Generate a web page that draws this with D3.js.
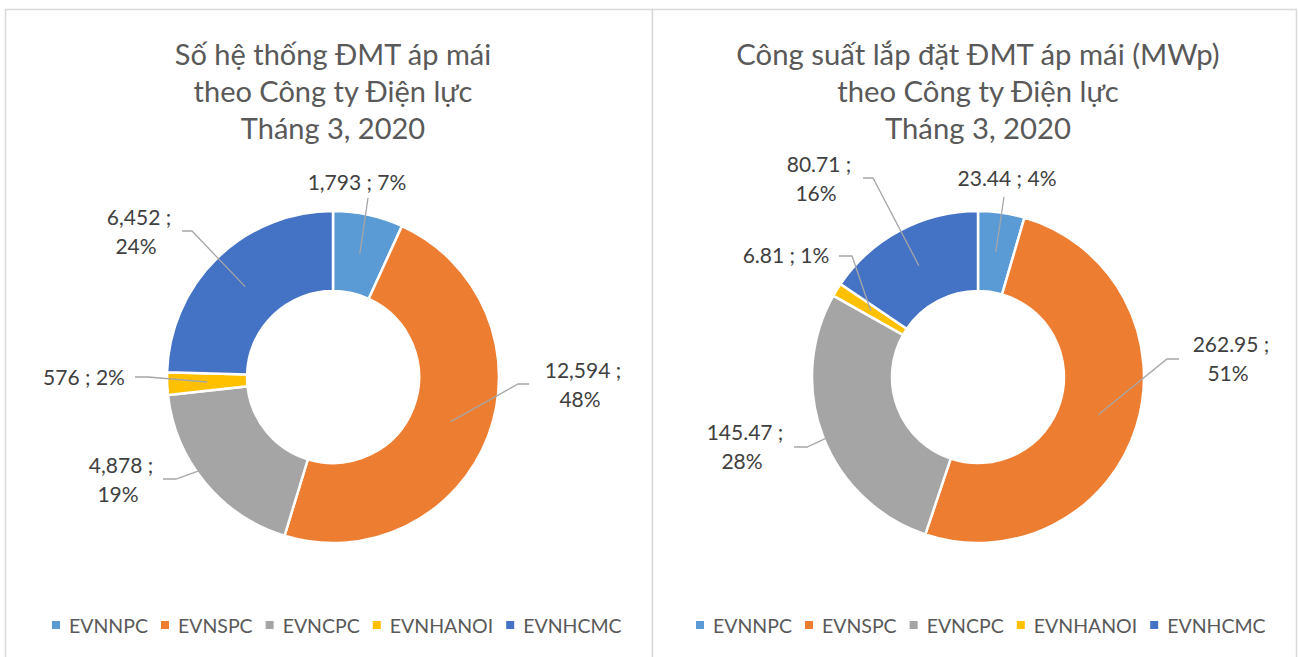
<!DOCTYPE html>
<html><head><meta charset="utf-8">
<script src="https://cdn.jsdelivr.net/npm/d3@7"></script>
<style>
body{margin:0;background:#fff;overflow:hidden}
text{font-family:Lato,"Open Sans",sans-serif}
</style>
</head><body>
<svg id="c" width="1298" height="657"></svg>
<script>
// ---------- data ----------
const categories = ["EVNNPC", "EVNSPC", "EVNCPC", "EVNHANOI", "EVNHCMC"];
const colors = ["#5B9BD5", "#ED7D31", "#A5A5A5", "#FFC000", "#4472C4"];
const systemsCount = [1793, 12594, 4878, 576, 6452];
const systemsPct = [7, 48, 19, 2, 24];
const capacityMWp = [23.44, 262.95, 145.47, 6.81, 80.71];
const capacityPct = [4, 51, 28, 1, 16];
const titleSystems = ["Số hệ thống ĐMT áp mái", "theo Công ty Điện lực", "Tháng 3, 2020"];
const titleCapacity = ["Công suất lắp đặt ĐMT áp mái (MWp)", "theo Công ty Điện lực", "Tháng 3, 2020"];

// ---------- layout (label placement, relative to donut centre) ----------
const layoutSystems = [
  {lab: [24, -187], split: false, lead: [[35, -179]]},
  {lab: [250, 1], split: true, lead: [[196, 7], [185, 7]]},
  {lab: [-212, 96], split: true, lead: [[-170, 102], [-157, 102]]},
  {lab: [-249, 8], split: false, lead: [[-198, 0], [-185, 0]]},
  {lab: [-194, -152], split: true, lead: [[-151, -146], [-141, -146]]}
];
const layoutCapacity = [
  {lab: [29, -191], split: false, lead: [[26, -180]]},
  {lab: [253, -25], split: true, lead: [[201, -18], [189, -18]]},
  {lab: [-233, 63], split: true, lead: [[-184, 70], [-171, 70]]},
  {lab: [-192, -114], split: false, lead: [[-139, -121], [-126, -121]]},
  {lab: [-159, -205], split: true, lead: [[-115, -199], [-105, -199]]}
];

const svg = d3.select("#c");
// panel borders
svg.append("rect").attr("x", 5.5).attr("y", 9.5).attr("width", 647).attr("height", 700)
  .attr("fill", "#fff").attr("stroke", "#D9D9D9").attr("stroke-width", 1.5);
svg.append("rect").attr("x", 652.5).attr("y", 9.5).attr("width", 644).attr("height", 700)
  .attr("fill", "#fff").attr("stroke", "#D9D9D9").attr("stroke-width", 1.5);

function donut(opts) {
  const {cx, cy, values, pcts, fmt, layout, title, legendX, titleSize} = opts;
  const g = svg.append("g");
  // title
  const t = g.append("text").attr("text-anchor", "middle").attr("fill", "#595959")
    .attr("font-size", titleSize);
  title.forEach((s, i) => t.append("tspan").attr("x", cx).attr("y", 65 + i * 37).text(s));

  const pie = d3.pie().sort(null).value(d => d)(values);
  const arc = d3.arc().innerRadius(86).outerRadius(166);
  const pg = g.append("g").attr("transform", `translate(${cx},${cy})`);
  pg.selectAll("path.s").data(pie).join("path").attr("class", "s")
    .attr("d", arc).attr("fill", (d, i) => colors[i])
    .attr("stroke", "#fff").attr("stroke-width", 2.5).attr("stroke-linejoin", "miter");

  // leader lines
  const line = d3.line();
  pie.forEach((d, i) => {
    const pts = layout[i].lead.concat([arc.centroid(d)]);
    pg.append("path").attr("d", line(pts)).attr("fill", "none")
      .attr("stroke", "#A6A6A6").attr("stroke-width", 1.3);
  });
  // labels
  pie.forEach((d, i) => {
    const L = layout[i];
    const v = fmt(values[i]);
    const txt = pg.append("text").attr("text-anchor", "middle").attr("fill", "#404040")
      .attr("font-size", 21);
    if (L.split) {
      txt.append("tspan").attr("x", L.lab[0]).attr("y", L.lab[1]).text(v + " ;");
      txt.append("tspan").attr("x", L.lab[0] - 3).attr("y", L.lab[1] + 29).text(pcts[i] + "%");
    } else {
      txt.append("tspan").attr("x", L.lab[0]).attr("y", L.lab[1]).text(v + " ; " + pcts[i] + "%");
    }
  });

  // legend
  const lg = g.append("g");
  let x = legendX;
  categories.forEach((c, i) => {
    lg.append("rect").attr("x", x).attr("y", 621).attr("width", 8).attr("height", 8).attr("fill", colors[i]);
    const tt = lg.append("text").attr("x", x + 17).attr("y", 633).attr("fill", "#595959")
      .attr("font-size", 19.5).text(c);
    x += 17 + tt.node().getComputedTextLength() + 13;
  });
}

donut({cx: 333, cy: 377, values: systemsCount, pcts: systemsPct, fmt: d3.format(","),
  layout: layoutSystems, title: titleSystems, legendX: 52, titleSize: 29});
donut({cx: 978, cy: 377, values: capacityMWp, pcts: capacityPct, fmt: d3.format(".2f"),
  layout: layoutCapacity, title: titleCapacity, legendX: 696, titleSize: 29.3});
</script>
</body></html>
